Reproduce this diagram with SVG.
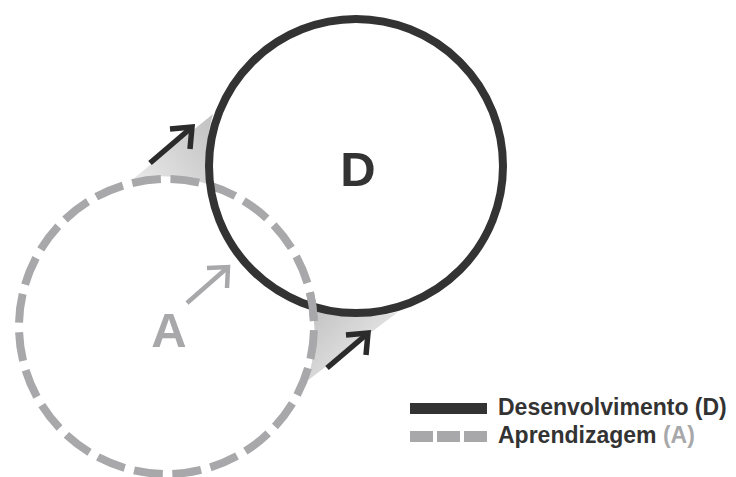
<svg xmlns="http://www.w3.org/2000/svg" width="736" height="477" viewBox="0 0 736 477">
  <style>
    .dev { fill: none; stroke: #333333; stroke-width: 8; }
    .learn { fill: none; stroke: #a8a8aa; stroke-width: 8; stroke-dasharray: 29 9.62; stroke-dashoffset: -3.6; }
    .arrow-dark { fill: none; stroke: #2b2b2b; stroke-width: 5.5; stroke-linejoin: miter; stroke-linecap: butt; }
    .arrow-light { fill: none; stroke: #a8a8aa; stroke-width: 4.5; stroke-linejoin: miter; stroke-linecap: butt; }
    .big { font-family: "Liberation Sans", Arial, sans-serif; font-weight: bold; font-size: 49px; text-anchor: middle; }
    .legend { font-family: "Liberation Sans", Arial, sans-serif; font-weight: bold; font-size: 23px; fill: #333333; }
  </style>
  <defs>
    <linearGradient id="shadeUpper" gradientUnits="userSpaceOnUse" x1="212" y1="128" x2="138" y2="182">
      <stop offset="0" stop-color="#c4c4c4"/>
      <stop offset="1" stop-color="#e8e8e8"/>
    </linearGradient>
    <linearGradient id="shadeLower" gradientUnits="userSpaceOnUse" x1="314" y1="312" x2="372" y2="366">
      <stop offset="0" stop-color="#c4c4c4"/>
      <stop offset="1" stop-color="#e8e8e8"/>
    </linearGradient>
    <clipPath id="lowerCrossing">
      <rect x="295" y="285" width="35" height="40"/>
    </clipPath>
  </defs>

  <rect width="736" height="477" fill="#ffffff"/>

  <!-- shaded growth zones between the two circles -->
  <g id="zones">
    <path d="M133,179 L213,114 A147,147 0 0 0 210,185 A147.5,147.5 0 0 0 133,179 Z" fill="url(#shadeUpper)"/>
    <path d="M398,312 L307,381 A147.5,147.5 0 0 0 312,307 A147,147 0 0 0 398,312 Z" fill="url(#shadeLower)"/>
  </g>

  <!-- learning circle (dashed) -->
  <g id="node-A">
    <circle id="circleA" class="learn" cx="166.5" cy="326.5" r="147.5"/>
    <text class="big" x="169" y="347" fill="#a8a8aa">A</text>
  </g>

  <!-- development circle (solid) -->
  <g id="node-D">
    <circle class="dev" cx="356" cy="166" r="147"/>
    <text class="big" x="358" y="186" fill="#333333">D</text>
  </g>

  <!-- dashed stroke passes over the solid one at the lower crossing -->
  <use href="#circleA" clip-path="url(#lowerCrossing)"/>

  <!-- arrows -->
  <g id="connectors">
    <line class="arrow-dark" x1="150" y1="163" x2="191" y2="128"/>
    <polyline class="arrow-dark" points="170,129 192,127 190,149"/>
    <line class="arrow-dark" x1="327" y1="368" x2="367" y2="334"/>
    <polyline class="arrow-dark" points="346,335 368,333 366,355"/>
    <line class="arrow-light" x1="187" y1="303" x2="227" y2="268"/>
    <polyline class="arrow-light" points="207,268 228,267 227,288"/>
  </g>

  <!-- legend -->
  <g id="legend">
    <rect x="410" y="403" width="77" height="11" fill="#333333"/>
    <text class="legend" x="498" y="415">Desenvolvimento (D)</text>
    <rect x="410" y="431" width="23" height="11" fill="#a8a8aa"/>
    <rect x="437" y="431" width="23" height="11" fill="#a8a8aa"/>
    <rect x="464" y="431" width="23" height="11" fill="#a8a8aa"/>
    <text class="legend" x="498" y="443">Aprendizagem <tspan fill="#a8a8aa">(A)</tspan></text>
  </g>
</svg>
